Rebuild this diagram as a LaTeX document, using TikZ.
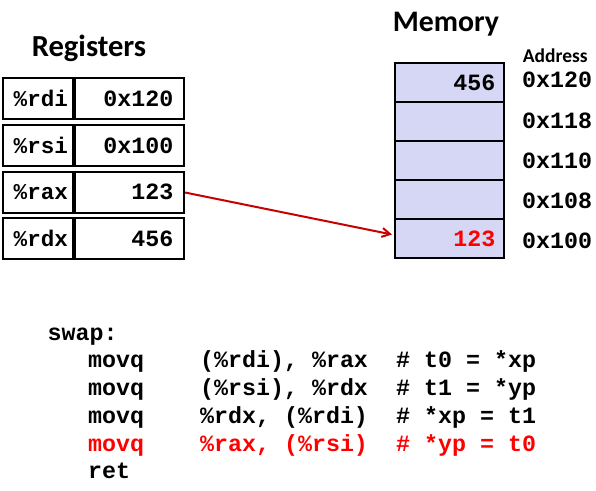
\documentclass[tikz,border=0pt]{standalone}
\usepackage{fontspec}
\setmainfont{Carlito}
\newfontfamily\codefont{Liberation Mono}
\usetikzlibrary{arrows.meta}
\definecolor{memfill}{RGB}{214,214,245}
\definecolor{arrowred}{RGB}{200,0,0}
\definecolor{codered}{RGB}{255,0,0}
\tikzset{
  cell/.style={draw=black, line width=2pt, inner sep=0pt, minimum height=41pt},
  memcell/.style={draw=black, line width=2pt, fill=memfill, inner sep=0pt, minimum width=109pt, minimum height=39pt},
  regtxt/.style={inner sep=0pt, font=\codefont\bfseries\fontsize{23.3}{27}\selectfont},
  regname/.style={inner sep=0pt, font=\codefont\bfseries\fontsize{22.6}{27}\selectfont},
  codetxt/.style={inner sep=0pt, anchor=base west, font=\codefont\bfseries\fontsize{23.3}{27}\selectfont},
  title/.style={inner sep=0pt, anchor=base, font=\bfseries\fontsize{30}{34}\selectfont},
  ptr/.style={draw=arrowred, line width=2pt, -{Straight Barb[length=8pt, width=9pt, line width=2pt]}}
}
\begin{document}
\begin{tikzpicture}[x=1pt, y=-1pt]
\useasboundingbox (0,0) rectangle (596,490);
% titles
\node[title, font=\bfseries\fontsize{30.6}{34}\selectfont] (tReg) at (89,56.7) {Registers};
\node[title, font=\bfseries\fontsize{29.8}{34}\selectfont] (tMem) at (446,31.7) {Memory};
\node[inner sep=0pt, anchor=base west, font=\bfseries\fontsize{19.5}{22}\selectfont] (tAddr) at (522.7,62.7) {Address};
% registers
\foreach \nm/\val/\cy/\bl [count=\i] in {rdi/0x120/98.3/106.7, rsi/0x100/145.8/153.3, rax/123/192.5/199.3, rdx/456/238.3/246} {
  \node[cell, minimum width=70pt] (n\nm) at (38,\cy) {};
  \node[cell, minimum width=109pt, anchor=west] (v\nm) at (n\nm.east) {};
  \node[regname, anchor=base west] (ln\nm) at (13.5,\bl) {\%\nm};
  \node[regtxt, anchor=base east] (lv\nm) at (173.5,\bl) {\val};
}
% memory
\foreach \addr/\cy/\bl [count=\i] in {0x120/82.5/87.8, 0x118/121.5/128.3, 0x110/160.5/168.3, 0x108/199.5/208.3, 0x100/238.5/248.5} {
  \node[memcell] (m\i) at (449.5,\cy) {};
  \node[regtxt, anchor=base west] (a\i) at (522,\bl) {\addr};
}
\node[regtxt, anchor=base east] (mv1) at (495.5,90) {456};
\node[regtxt, anchor=base east, text=codered] (mv5) at (495.5,246) {123};
% pointer
\draw[ptr] (vrax.east) -- ([xshift=-2pt, yshift=4pt]m5.west);
% code
\node[codetxt] (c0) at (47.5,340.5) {swap:};
\node[codetxt] (c1a) at (88,367.5) {movq};
\node[codetxt] (c1b) at (200,367.5) {(\%rdi), \%rax};
\node[codetxt] (c1c) at (396,367.5) {\# t0 = *xp};
\node[codetxt] (c2a) at (88,395.5) {movq};
\node[codetxt] (c2b) at (200,395.5) {(\%rsi), \%rdx};
\node[codetxt] (c2c) at (396,395.5) {\# t1 = *yp};
\node[codetxt] (c3a) at (88,423) {movq};
\node[codetxt] (c3b) at (200,423) {\%rdx, (\%rdi)};
\node[codetxt] (c3c) at (396,423) {\# *xp = t1};
\node[codetxt, text=codered] (c4a) at (88,451) {movq};
\node[codetxt, text=codered] (c4b) at (200,451) {\%rax, (\%rsi)};
\node[codetxt, text=codered] (c4c) at (396,451) {\# *yp = t0};
\node[codetxt] (c5) at (88,478.5) {ret};
\end{tikzpicture}
\end{document}
